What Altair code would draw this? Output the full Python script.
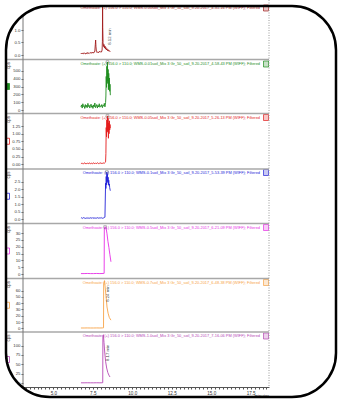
import altair as alt
import pandas as pd

# ---- acquisition metadata -------------------------------------------------
concentrations = ["0.00", "0.01", "0.05", "0.1", "0.5", "0.7", "1.0"]
acq_times = ["4-31-16", "4-58-43", "5-26-13", "5-53-39", "6-21-09", "6-48-38", "7-16-06"]
colors = ["#a21c1c", "#1e8c1e", "#e31b1b", "#2424d8", "#e62ee6", "#f7a448", "#b547b5"]

# ---- XIC traces (time in minutes, intensity) --------------------------------
t1 = [6.75, 6.79, 6.83, 6.87, 6.91, 6.95, 6.99, 7.03, 7.07, 7.11,
      7.15, 7.19, 7.23, 7.27, 7.31, 7.35, 7.39, 7.43, 7.47, 7.51,
      7.55, 7.59, 7.63, 7.66, 7.68, 7.70, 7.73, 7.77, 7.81, 7.85,
      7.89, 7.93, 7.97, 8.01, 8.05, 8.09, 8.11, 8.12, 8.13, 8.15,
      8.18, 8.21, 8.24, 8.27, 8.30, 8.33, 8.36, 8.40, 8.44, 8.48,
      8.52, 8.56, 8.60]
v1 = [0.05, 0.08, 0.04, 0.07, 0.05, 0.09, 0.06, 0.04, 0.08, 0.06,
      0.10, 0.05, 0.07, 0.09, 0.06, 0.08, 0.11, 0.07, 0.09, 0.12,
      0.08, 0.10, 0.16, 0.42, 0.60, 0.35, 0.14, 0.10, 0.13, 0.09,
      0.12, 0.15, 0.11, 0.14, 0.12, 0.20, 0.55, 1.98, 1.10, 0.50,
      0.34, 0.42, 0.28, 0.36, 0.24, 0.30, 0.20, 0.25, 0.17, 0.21,
      0.15, 0.17, 0.13]

t_fine = [6.75, 6.79, 6.83, 6.87, 6.91, 6.95, 6.99, 7.03, 7.07, 7.11,
          7.15, 7.19, 7.23, 7.27, 7.31, 7.35, 7.39, 7.43, 7.47, 7.51,
          7.55, 7.59, 7.63, 7.67, 7.71, 7.75, 7.79, 7.83, 7.87, 7.91,
          7.95, 7.99, 8.03, 8.07, 8.11, 8.15, 8.19, 8.23, 8.27, 8.31,
          8.33, 8.35, 8.37, 8.39, 8.41, 8.43, 8.45, 8.47, 8.49, 8.51,
          8.53, 8.55, 8.57, 8.59, 8.61]
v2 = [40, 65, 25, 80, 45, 55, 20, 70, 35, 60,
      30, 85, 45, 60, 25, 50, 75, 35, 55, 20,
      65, 40, 90, 30, 50, 70, 25, 60, 40, 80,
      35, 55, 45, 70, 30, 60, 50, 85, 40, 95,
      180, 430, 290, 560, 370, 615, 340, 520, 260, 470,
      300, 410, 240, 330, 190]
v3 = [0.02, 0.03, 0.02, 0.04, 0.02, 0.03, 0.05, 0.02, 0.03, 0.02,
      0.04, 0.03, 0.02, 0.05, 0.03, 0.02, 0.04, 0.03, 0.02, 0.03,
      0.05, 0.02, 0.03, 0.04, 0.02, 0.03, 0.05, 0.03, 0.02, 0.04,
      0.03, 0.05, 0.02, 0.04, 0.03, 0.05, 0.04, 0.03, 0.06, 0.08,
      0.35, 1.20, 0.90, 1.45, 1.05, 1.58, 1.10, 1.50, 0.85, 1.35,
      1.00, 1.42, 1.12, 1.30, 1.18]
v4 = [0.05, 0.08, 0.04, 0.06, 0.09, 0.05, 0.07, 0.04, 0.08, 0.06,
      0.05, 0.09, 0.06, 0.04, 0.07, 0.08, 0.05, 0.06, 0.09, 0.04,
      0.07, 0.05, 0.08, 0.06, 0.04, 0.07, 0.09, 0.05, 0.06, 0.08,
      0.05, 0.07, 0.06, 0.09, 0.05, 0.08, 0.07, 0.10, 0.12, 2.40,
      2.05, 2.85, 2.30, 3.15, 2.55, 3.00, 2.45, 2.80, 2.30, 2.60,
      2.25, 2.35, 2.10, 2.00, 1.90]

t5 = [6.75, 6.95, 7.15, 7.35, 7.55, 7.75, 7.95, 8.15, 8.22, 8.23,
      8.28, 8.34, 8.40, 8.46, 8.52, 8.58, 8.65]
v5 = [0.3, 0.3, 0.4, 0.3, 0.3, 0.4, 0.3, 0.4, 0.5, 33.0,
      34.5, 34.0, 29.5, 24.0, 19.5, 14.5, 9.0]

t6 = [6.75, 6.95, 7.15, 7.35, 7.55, 7.75, 7.95, 8.10, 8.18, 8.19,
      8.24, 8.29, 8.34, 8.40, 8.47, 8.55, 8.65]
v6 = [0.5, 0.5, 0.6, 0.5, 0.5, 0.6, 0.5, 0.6, 0.8, 72.0,
      76.0, 64.0, 51.0, 34.0, 24.0, 17.0, 13.0]

t7 = [6.75, 6.95, 7.15, 7.35, 7.55, 7.75, 7.95, 8.08, 8.13, 8.14,
      8.17, 8.21, 8.26, 8.31, 8.38, 8.45, 8.52, 8.59]
v7 = [0.5, 0.5, 0.6, 0.5, 0.5, 0.6, 0.5, 0.6, 0.8, 126.0,
      129.0, 108.0, 80.0, 58.0, 40.0, 28.0, 21.0, 16.0]

times = [t1, t_fine, t_fine, t_fine, t5, t6, t7]
values = [v1, v2, v3, v4, v5, v6, v7]

# ---- y axis ticks per panel -------------------------------------------------
y_max = [2.04, 628, 1.61, 3.22, 36, 77, 131]
y_ticks = [[0, 0.5, 1.0], [0, 100, 200, 300, 400, 500],
           [0, 0.25, 0.5, 0.75, 1.0, 1.25], [0, 0.5, 1.0, 1.5, 2.0, 2.5],
           [0, 5, 10, 15, 20, 25, 30], [0, 10, 20, 30, 40, 50, 60],
           [0, 25, 50, 75, 100]]
y_fmt = [".1f", "d", ".2f", ".1f", "d", "d", "d"]

# ---- layout (pixels inside the plotting area) -------------------------------
W, H = 246, 387
band_top = [0, 59.5, 113.5, 169, 223.5, 278.5, 332]
band_bottom = [59.5, 113.5, 169, 223.5, 278.5, 332, 387]
zero_px = [55, 110, 164.3, 219, 274, 328.3, 383]
top_px = [4, 61, 115, 171, 225, 280, 334]
title_y = [8, 64, 117.5, 172.5, 227.5, 282.5, 336]
peak_labelled = [True, False, False, False, False, True, True]
# screen offset of the rotated retention-time label from the apex (right, down)
label_right = [7, 0, 0, 0, 0, 4, 5]
label_down = [31, 0, 0, 0, 0, 13, 18]

FONT = "Liberation Sans Narrow, Liberation Sans, Arial, sans-serif"
X_DOMAIN = [3.08, 18.66]
x_tick_values = [round(3.25 + 0.25 * k, 2) for k in range(62)]

x_axis = alt.Axis(
    values=x_tick_values,
    labelExpr="datum.value % 2.5 == 0 ? format(datum.value, '.1f') : ''",
    labelOverlap=False, labelFlush=False, labelFontSize=4.6, labelPadding=1,
    labelColor="#333", tickSize=2, tickColor="#555", domainColor="#555",
    grid=False, title="minutes", titleFontSize=4.3, titleFontWeight="normal",
    titleAnchor="end", titlePadding=-1, titleColor="#333",
)
x_enc = alt.X("t:Q", scale=alt.Scale(domain=X_DOMAIN, nice=False, zero=False), axis=x_axis)

one = pd.DataFrame({"k": [0]})


def panel(i):
    df = pd.DataFrame({"t": times[i], "v": values[i]})
    y_enc = alt.Y(
        "v:Q",
        scale=alt.Scale(domain=[0, y_max[i]], range=[zero_px[i], top_px[i]], nice=False, zero=False),
        axis=alt.Axis(
            orient="left", values=y_ticks[i], format=y_fmt[i], grid=False, domain=False,
            labelFontSize=4.3, labelPadding=1, labelColor="#333", tickSize=2, tickColor="#666",
            title="cps", titleX=-15, titleY=band_top[i] + 2, titleAngle=270, titleAlign="right",
            titleBaseline="middle", titleFontSize=4.5, titleFontWeight="normal", titleColor="#444",
        ),
    )
    line = alt.Chart(df).mark_line(color=colors[i], strokeWidth=0.9).encode(x=x_enc, y=y_enc)

    k = max(range(len(values[i])), key=lambda j: values[i][j])
    apex = pd.DataFrame({"t": [times[i][k]], "v": [values[i][k]],
                         "lab": [f"{times[i][k]:.2f} min"]})
    layers = [line]
    if peak_labelled[i]:
        # offsets of rotated text act in the text's own frame
        layers.append(
            alt.Chart(apex).mark_text(angle=270, fontSize=4.3, color="#444", font=FONT,
                                      dx=-label_down[i], dy=label_right[i], align="center",
                                      baseline="middle")
            .encode(x=x_enc, y=y_enc, text="lab:N"))
    else:
        layers.append(
            alt.Chart(apex).mark_point(shape="square", size=7, color="#666", filled=False,
                                       strokeWidth=0.7, dx=1)
            .encode(x=x_enc, y=y_enc))

    title = (f"Omethoate:  (+) 156.0 > 110.0;   WMS-{concentrations[i]}soil_Mix 3 Gr_50_soil_"
             f"9-20-2017_{acq_times[i]} PM (WIFF);   Filtered")
    layers.append(
        alt.Chart(one).mark_text(text=title, align="right", baseline="middle", fontSize=3.9,
                                 color=colors[i], font=FONT)
        .encode(x=alt.value(237), y=alt.value(title_y[i])))
    # small trace-selector box at the end of the title
    layers.append(
        alt.Chart(one).mark_rect(fill=colors[i], fillOpacity=0.25, stroke=colors[i], strokeWidth=0.7)
        .encode(x=alt.value(240.5), x2=alt.value(245.5),
                y=alt.value(title_y[i] - 3), y2=alt.value(title_y[i] + 3)))
    # legend swatch on the far left
    mid = (band_top[i] + band_bottom[i]) / 2
    layers.append(
        alt.Chart(one).mark_rect(fill=colors[i] if i == 1 else "white", stroke=colors[i],
                                 strokeWidth=0.8)
        .encode(x=alt.value(-17), x2=alt.value(-13.5), y=alt.value(mid - 3), y2=alt.value(mid + 3)))
    return alt.layer(*layers)


panels = [panel(i) for i in range(7)]

frame = []
for s in band_top[1:]:
    frame.append(alt.Chart(one).mark_rule(color="#a8a8a8", strokeWidth=1.5)
                 .encode(x=alt.value(-18), x2=alt.value(W), y=alt.value(s)))
frame.append(alt.Chart(one).mark_rule(color="#777", strokeWidth=1)
             .encode(x=alt.value(0), y=alt.value(0), y2=alt.value(H)))
frame.append(alt.Chart(one).mark_rule(color="#999", strokeWidth=1, strokeDash=[1, 1.5])
             .encode(x=alt.value(W), y=alt.value(0), y2=alt.value(H)))

# rounded outer frame: white corner masks, then the black outline
R = 44
corners = [(-17 + R, 6 + R, 4.7124, 6.2832), (313 - R, 6 + R, 0.0, 1.5708),
           (313 - R, 397 - R, 1.5708, 3.1416), (-17 + R, 397 - R, 3.1416, 4.7124)]
for cx, cy, a0, a1 in corners:
    frame.append(alt.Chart(one).mark_arc(fill="white", stroke=None)
                 .encode(x=alt.value(cx), y=alt.value(cy), theta=alt.value(a0),
                         theta2=alt.value(a1), radius=alt.value(80), radius2=alt.value(R)))
frame.append(alt.Chart(one).mark_rect(fillOpacity=0, stroke="black", strokeWidth=2.5,
                                      cornerRadius=R)
             .encode(x=alt.value(-17), x2=alt.value(313), y=alt.value(6), y2=alt.value(397)))

chart = (
    alt.layer(*panels, *frame)
    .resolve_scale(y="independent")
    .properties(width=W, height=H, padding={"left": 23, "top": 0, "right": 72, "bottom": 18},
                autosize=alt.AutoSizeParams(type="none"), background="white")
    .configure_view(stroke=None)
    .configure_axis(labelFont=FONT, titleFont=FONT)
    .configure_text(font=FONT)
)

chart.save("out.html", embed_options={"renderer": "svg", "actions": False})
